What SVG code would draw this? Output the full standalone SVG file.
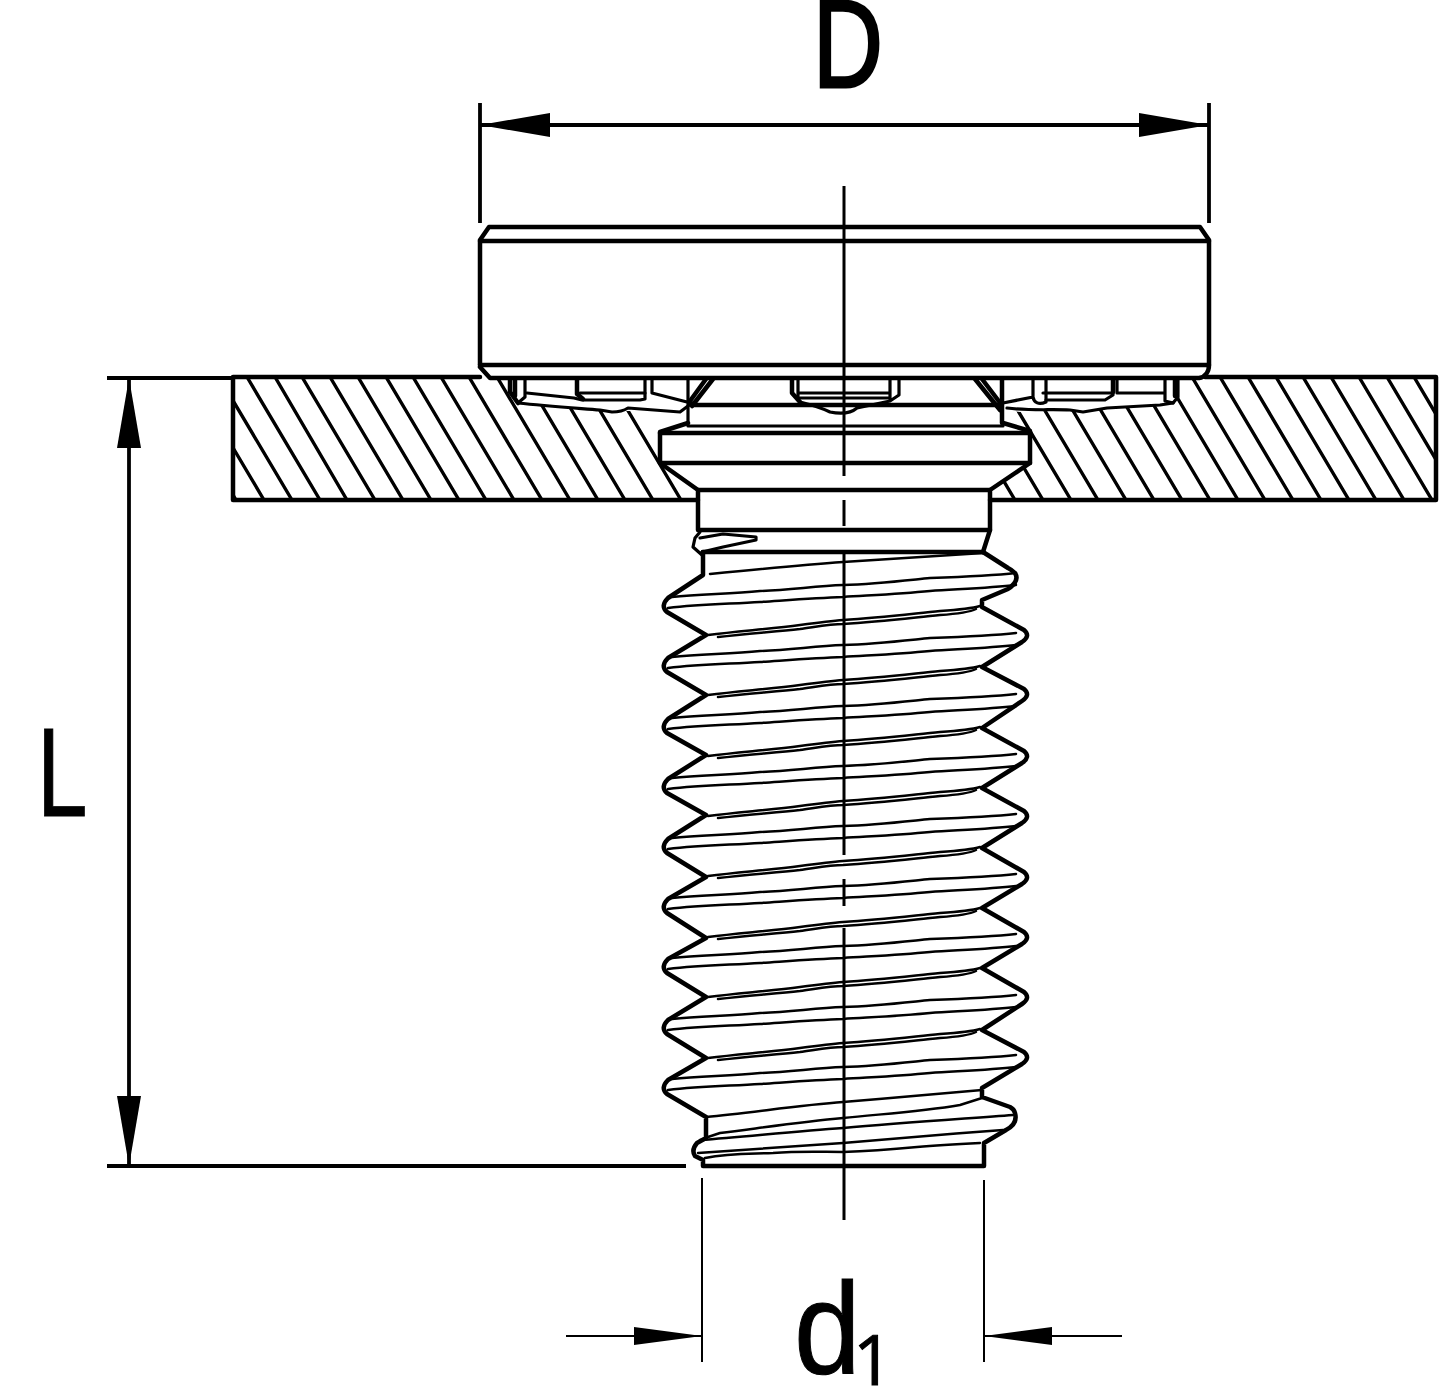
<svg xmlns="http://www.w3.org/2000/svg" width="1447" height="1386" viewBox="0 0 1447 1386">
<style>
.t{fill:none;stroke:#000;stroke-width:4.5;stroke-linecap:round;stroke-linejoin:round}
.m{fill:none;stroke:#000;stroke-width:3.2;stroke-linecap:round;stroke-linejoin:round}
.f{fill:none;stroke:#000;stroke-width:2.5;stroke-linecap:round;stroke-linejoin:round}
.h{fill:none;stroke:#000;stroke-width:3.4}
.c{fill:none;stroke:#000;stroke-width:3}
.d{fill:none;stroke:#000;stroke-width:3.8}
.e{fill:none;stroke:#000;stroke-width:2}
.x{font-family:"Liberation Sans",Arial,sans-serif;fill:#000;stroke:#000}
</style>
<defs>
<marker id="big" markerUnits="userSpaceOnUse" markerWidth="72" markerHeight="26" refX="70" refY="13" orient="auto-start-reverse"><path d="M70 13L0 25V1Z" fill="#000"/></marker>
<marker id="small" markerUnits="userSpaceOnUse" markerWidth="70" markerHeight="20" refX="68" refY="10" orient="auto-start-reverse"><path d="M68 10L0 19V1Z" fill="#000"/></marker>
<clipPath id="hl"><path d="M233 377H508L518 403L545 406L600 411H690L688 423L662 432V464L698 490V500H233Z"/></clipPath>
<clipPath id="hr"><path d="M1005 410L1020 412L1073 410L1160 405L1175 398L1180 377H1436V500H990V490L1030 463V432L1003 423Z"/></clipPath>
<g id="crest">
<path class="f" d="M672 -9C700 -12 730 -12 760 -15C790 -16 815 -20 843 -21C875 -22 900 -25 930 -28C960 -29 990 -30 1016 -33"/>
<path class="f" d="M668 2C700 -2 730 -2 760 -4C790 -6 815 -8 843 -9C875 -11 900 -12 930 -15C960 -17 990 -18 1016 -21"/>
</g>
<g id="root">
<path class="f" d="M708 29C740 25 770 23 800 19C815 17 830 15 843 14C880 12 910 8 940 5C955 4 970 3 980 0"/>
<path class="f" d="M718 31C745 28 770 26 800 23C815 21 830 18 843 18C880 16 910 12 940 9C955 8 968 7 976 3"/>
</g>
</defs>

<g id="plate">
<g clip-path="url(#hl)"><path class="h" d="M108 377L181 500M136 377L209 500M164 377L236 500M191 377L264 500M219 377L292 500M247 377L320 500M275 377L347 500M302 377L375 500M330 377L403 500M358 377L431 500M386 377L459 500M413 377L486 500M441 377L514 500M469 377L542 500M497 377L570 500M525 377L598 500M552 377L625 500M580 377L653 500M608 377L681 500"/></g>
<g clip-path="url(#hr)"><path class="h" d="M942 377L1015 500M970 377L1043 500M998 377L1071 500M1025 377L1098 500M1053 377L1126 500M1081 377L1154 500M1109 377L1182 500M1137 377L1210 500M1165 377L1238 500M1192 377L1265 500M1220 377L1293 500M1248 377L1321 500M1276 377L1349 500M1303 377L1376 500M1331 377L1404 500M1359 377L1432 500M1387 377L1460 500M1414 377L1487 500"/></g>
<path class="t" d="M480 377H233V500H698M990 500H1436V377H1205"/>
</g>

<g id="head">
<path class="t" d="M480 365V240L489 227H1200L1209 240V365C1209 372 1205 377 1199 378H490L480 367"/>
<path class="t" d="M480 241H1209M480 365H1209"/>
</g>

<g id="knurl-left">
<path class="t" d="M510 379V392L518 403M515 379V396"/>
<path class="m" d="M525 379V397L518 403C545 406 575 408 600 410L612 412C620 412 625 410 628 408L680 412L692 403"/>
<path class="m" d="M527 393L574 398L582 400H640L645 399V379M652 379V393L687 402M688 379V423"/>
<path class="t" d="M577 379V394L583 399"/>
<path class="m" d="M580 393H645"/>
<path class="t" d="M713 379L692 406M706 379L690 401"/>
</g>
<g id="knurl-center">
<path class="t" d="M792 379V393L800 402"/>
<path class="m" d="M798 379V398M798 393H890M800 398H890M800 402C812 405 820 407 830 412C840 414 850 414 857 408L890 401L899 395V379M890 379V400"/>
</g>
<g id="knurl-right">
<path class="t" d="M975 379L1000 410M982 379L1001 404"/>
<path class="t" d="M1002 379V423"/>
<path class="m" d="M1003 403L1033 397C1034 403 1039 405 1046 402V379M1033 379V397"/>
<path class="m" d="M1043 393H1113M1046 400H1105L1113 395V379M1117 379V393L1165 393M1165 379V401L1173 403L1178 397V379"/>
<path class="t" d="M1113 379V392M1175 379V396"/>
<path class="m" d="M1007 408C1030 411 1050 409 1070 410L1083 412L1107 408L1160 405L1173 403"/>
</g>

<g id="shank">
<path class="t" d="M692 405H1000"/>
<path class="m" d="M688 426H1003"/>
<path class="t" d="M688 423L660 432V463L698 490V530M1003 423L1030 431V463L990 490V530L983 552"/>
<path class="t" d="M660 433H1030M660 463H1030M698 490H990M700 530H990M703 552H983"/>
<path class="m" d="M700 532L695 538L693 547L702 555M700 538L723 534L756 537V540L723 547L702 552"/>
</g>

<g id="thread">
<path class="t" d="M703 552V575L668 598Q660 606 667 612L706 635L668 658Q660 666 667 672L706 695L668 719Q660 727 667 733L706 755L668 779Q660 787 667 793L706 815L668 839Q660 847 667 853L706 877L668 899Q660 907 667 913L706 938L668 959Q660 967 667 973L706 997L668 1020Q660 1028 667 1034L706 1058L668 1080Q660 1088 667 1094L706 1117V1138L697 1143Q691 1150 695 1156L703 1160V1166H984V1143L1006 1130Q1018 1124 1015 1113Q1014 1109 1010 1107L982 1097V1088L1022 1064Q1031 1058 1024 1052L982 1030L1022 1004Q1031 998 1024 992L982 968L1022 944Q1031 938 1024 932L982 908L1022 884Q1031 878 1024 872L982 848L1022 823Q1031 817 1024 811L982 788L1022 763Q1031 757 1024 751L982 728L1022 701Q1031 695 1024 689L982 667L1022 642Q1031 636 1024 630L982 607V600L1008 589Q1020 581 1015 573Q1012 570 1008 568L983 552"/>
<use href="#crest" y="606"/><use href="#crest" y="666"/><use href="#crest" y="727"/><use href="#crest" y="787"/><use href="#crest" y="847"/><use href="#crest" y="907"/><use href="#crest" y="967"/><use href="#crest" y="1028"/><use href="#crest" y="1088"/>
<use href="#root" y="606"/><use href="#root" y="666"/><use href="#root" y="727"/><use href="#root" y="787"/><use href="#root" y="847"/><use href="#root" y="908"/><use href="#root" y="968"/><use href="#root" y="1029"/>
<path class="f" d="M710 574C760 569 800 565 843 562C880 560 920 557 983 553"/>
<path class="f" d="M706 1117C750 1113 800 1105 843 1102C890 1098 940 1094 982 1090"/>
<path class="f" d="M708 1137L720 1133C760 1128 800 1122 843 1118C880 1114 920 1112 960 1105L982 1098"/>
<path class="f" d="M700 1140C750 1136 800 1131 843 1128C900 1123 960 1119 1013 1115"/>
<path class="f" d="M698 1153C750 1149 800 1146 843 1143C900 1138 950 1134 1003 1130"/>
<path class="f" d="M705 1158C730 1153 750 1154 773 1153C800 1151 820 1152 843 1152C870 1151 895 1149 917 1147C940 1145 960 1144 980 1143"/>
</g>

<g id="centerline">
<path class="c" d="M844 186V476M844 500V526M844 550V855M844 879V906M844 928V1220"/>
</g>

<g id="connectors">
<path class="d" d="M480 103V223M1209 103V223"/>
<path class="d" d="M480 125H1209" marker-start="url(#big)" marker-end="url(#big)"/>
<path class="d" d="M107 378H233M107 1166H686"/>
<path class="d" d="M129 378V1166" marker-start="url(#big)" marker-end="url(#big)"/>
<path class="e" d="M702 1178V1362M984 1180V1362"/>
<path class="e" d="M566 1336H702" marker-end="url(#small)"/>
<path class="e" d="M1122 1336H984" marker-end="url(#small)"/>
</g>

<g id="labels">
<text class="x" font-size="124" stroke-width="3" transform="translate(813 87) scale(.78 1)">D</text>
<text class="x" font-size="126" stroke-width="1" transform="translate(37 816) scale(.72 1)">L</text>
<text class="x" font-size="129" stroke-width="1" transform="translate(794 1373) scale(.93 1)">d</text>
<text font-family="'Open Sans',sans-serif" font-size="70" stroke="#000" stroke-width="1" x="853" y="1385">1</text>
</g>
</svg>
